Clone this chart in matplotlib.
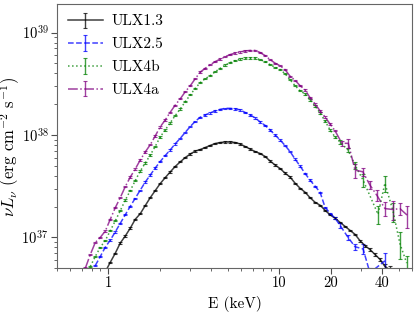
import numpy as np
import matplotlib
matplotlib.use("Agg")
import matplotlib.pyplot as plt
from matplotlib.ticker import LogLocator, NullFormatter, LogFormatterMathtext

plt.rcParams['font.family'] = 'serif'
plt.rcParams['font.serif'] = ['cmr10']
plt.rcParams['mathtext.fontset'] = 'cm'
plt.rcParams['axes.formatter.use_mathtext'] = True
plt.rcParams['axes.unicode_minus'] = False
plt.rcParams['font.size'] = 11

# energy grid (keV) shared by the four spectra up to ~21 keV
e_grid = [0.734, 0.785, 0.839, 0.898, 0.960, 1.027, 1.099, 1.175, 1.257, 1.345,
          1.438, 1.538, 1.645, 1.760, 1.882, 2.013, 2.153, 2.30, 2.46, 2.64,
          2.82, 3.02, 3.23, 3.45, 3.69, 3.95, 4.22, 4.52, 4.83, 5.17,
          5.53, 5.91, 6.32, 6.76, 7.24, 7.74, 8.28, 8.85, 9.47, 10.13,
          10.83, 11.59, 12.40, 13.26, 14.18, 15.17, 16.23, 17.36, 18.56, 19.86,
          21.24]

nan = np.nan
# nuLnu in units of 1e37 erg/s
ulx13 = [nan, nan, nan, 0.40, 0.46, 0.57, 0.70, 0.88, 1.03, 1.23,
         1.50, 1.70, 2.04, 2.44, 2.86, 3.35, 3.83, 4.34, 4.91, 5.47,
         6.01, 6.52, 6.96, 7.20, 7.54, 7.90, 8.25, 8.44, 8.54, 8.54,
         8.44, 8.17, 7.72, 7.29, 6.88, 6.59, 6.16, 5.57, 5.09, 4.70,
         4.24, 3.88, 3.38, 3.02, 2.76, 2.44, 2.20, 2.06, 1.84, 1.66,
         1.54]
ulx13_e_tail = [22.72, 24.30, 26.0, 27.8, 29.7, 31.8, 34.0, 36.4, 38.9, 41.6, 44.5]
ulx13_tail = [1.40, 1.28, 1.17, 1.07, 0.93, 0.83, 0.76, 0.68, 0.61, 0.52, 0.48]
ulx13_err_tail = [0.02, 0.02, 0.02, 0.02, 0.02, 0.02, 0.02, 0.02, 0.02, 0.03, 0.04]

ulx25 = [nan, nan, 0.53, 0.65, 0.80, 0.94, 1.13, 1.37, 1.66, 2.01,
         2.41, 2.89, 3.46, 4.06, 4.75, 5.50, 6.29, 7.12, 8.17, 9.29,
         10.6, 12.1, 13.6, 14.9, 15.7, 16.4, 17.2, 17.8, 18.2, 18.2,
         18.0, 17.6, 16.6, 15.7, 14.7, 13.4, 12.4, 11.2, 10.0, 8.93,
         7.90, 6.88, 5.81, 4.97, 4.21, 3.62, 3.16, 2.76, 1.97, 1.72,
         1.54]
ulx25_e_tail = [22.72, 25.3, 27.8, 31.0, 34.0, 41.6]
ulx25_tail = [1.31, 1.00, 0.81, 0.77, 0.45, 0.59]
ulx25_err_tail = [0.08, 0.06, 0.06, 0.09, 0.05, 0.12]

ulx4b = [nan, 0.52, 0.65, 0.80, 0.93, 1.16, 1.45, 1.82, 2.31, 2.86,
         3.58, 4.44, 5.31, 6.36, 7.72, 9.56, 11.2, 13.1, 15.4, 18.0,
         21.1, 24.7, 28.6, 32.4, 35.5, 37.9, 41.5, 44.8, 48.1, 50.9,
         53.3, 55.1, 56.4, 56.7, 56.4, 54.5, 52.0, 48.6, 45.9, 43.5,
         39.7, 34.6, 30.3, 27.0, 25.2, 22.0, 19.2, 16.4, 13.7, 11.2,
         9.56]
ulx4b_e_tail = [22.72, 25.3, 27.8, 31.0, 37.9, 41.6, 46.4, 50.9, 55.8]
ulx4b_tail = [8.54, 7.11, 5.09, 3.62, 1.68, 3.38, 1.80, 0.87, 0.56]
ulx4b_err_tail = [0.3, 0.35, 0.4, 0.55, 0.33, 0.6, 0.38, 0.25, 0.1]

ulx4a = [0.50, 0.68, 0.89, 1.00, 1.15, 1.50, 1.95, 2.44, 3.13, 3.88,
         4.65, 5.69, 6.82, 8.02, 9.78, 12.0, 14.0, 16.6, 19.5, 22.6,
         26.4, 30.3, 35.5, 41.1, 44.8, 48.6, 52.0, 55.1, 58.2, 61.0,
         63.2, 64.7, 66.2, 67.0, 67.0, 63.9, 59.6, 54.5, 50.3, 47.5,
         43.5, 37.5, 34.2, 30.3, 27.6, 23.1, 20.1, 17.2, 15.0, 12.8,
         11.0]
ulx4a_e_tail = [23.3, 25.4, 27.8, 30.9, 34.0, 37.3, 41.6, 46.5, 50.9, 56.3]
ulx4a_tail = [8.29, 8.29, 4.54, 4.37, 3.24, 2.58, 1.91, 1.87, 1.91, 1.64]
ulx4a_err_tail = [0.5, 0.9, 0.7, 0.4, 0.3, 0.3, 0.3, 0.4, 0.25, 0.4]

rel_err = 0.015  # typical fractional error below ~20 keV

series = [
    ("ULX1.3", ulx13, ulx13_e_tail, ulx13_tail, ulx13_err_tail, "k", "-"),
    ("ULX2.5", ulx25, ulx25_e_tail, ulx25_tail, ulx25_err_tail, "b", "--"),
    ("ULX4b", ulx4b, ulx4b_e_tail, ulx4b_tail, ulx4b_err_tail, "g", ":"),
    ("ULX4a", ulx4a, ulx4a_e_tail, ulx4a_tail, ulx4a_err_tail, "purple", "-."),
]

fig = plt.figure(figsize=(4.15, 3.14), dpi=100)
ax = fig.add_axes([0.137, 0.146, 0.856, 0.841])

for name, vals, e_tail, tail, err_tail, col, ls in series:
    e = np.concatenate([e_grid, e_tail])
    v = np.concatenate([vals, tail]) * 1e37
    err = np.concatenate([np.array(vals) * rel_err, err_tail]) * 1e37
    ax.errorbar(e, v, yerr=err, color=col, ls=ls, lw=1.1, elinewidth=1.0,
                capsize=1.3, capthick=0.8, alpha=0.75, label=name)

ax.set_xscale('log')
ax.set_yscale('log')
ax.set_xlim(0.5, 60)
ax.set_ylim(5e36, 1.9e39)

xt = [1, 10, 20, 40]
ax.set_xticks(xt)
ax.set_xticklabels([str(t) for t in xt])
ax.xaxis.set_minor_locator(LogLocator(base=10, subs=np.arange(2, 10)))
ax.xaxis.set_minor_formatter(NullFormatter())
ax.yaxis.set_major_locator(LogLocator(base=10))
ax.yaxis.set_major_formatter(LogFormatterMathtext())
ax.yaxis.set_minor_locator(LogLocator(base=10, subs=np.arange(2, 10)))
ax.yaxis.set_minor_formatter(NullFormatter())

ax.tick_params(which='both', direction='out', top=False, right=False, colors='0.3',
               labelcolor='k', labelsize=10.5, pad=2)
ax.tick_params(which='major', length=4)
ax.tick_params(which='minor', length=2.5)
for s in ax.spines.values():
    s.set_edgecolor('0.4')

ax.set_xlabel('E (keV)', fontsize=11, labelpad=4)
ax.set_ylabel(r'$\nu L_\nu$ (erg cm$^{-2}$ s$^{-1}$)', fontsize=12)
ax.yaxis.set_label_coords(-0.098, 0.46)

ax.legend(loc='upper left', frameon=False, handlelength=2.3, handletextpad=0.6,
          fontsize=11, borderaxespad=0.3, labelspacing=0.6)

fig.savefig('out.png', dpi=100)
